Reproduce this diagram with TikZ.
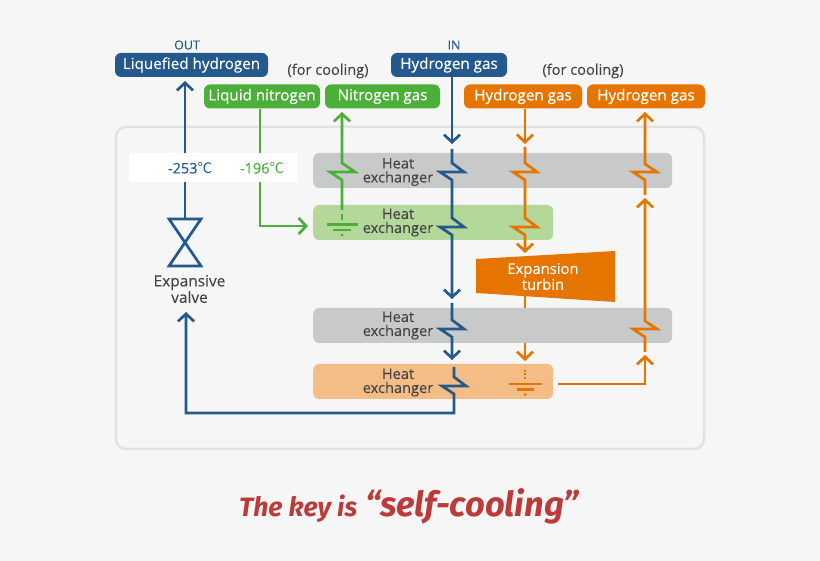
\documentclass[tikz,border=0pt]{standalone}
\usepackage{fontspec}
\setmainfont{Open Sans}
\newfontfamily\medf[FakeBold=0.35]{Open Sans}
\newfontfamily\lightf[FakeBold=0.12]{Open Sans}
\newfontfamily\titlefont{Fira Sans}
\newfontfamily\cjkf{Noto Sans CJK KR}
\usetikzlibrary{arrows.meta,calc}
\definecolor{bluec}{HTML}{23598C}
\definecolor{greenc}{HTML}{4BAF3A}
\definecolor{orangec}{HTML}{E67500}
\definecolor{darkt}{HTML}{444444}
\definecolor{bgc}{HTML}{F6F6F6}
\definecolor{panelc}{HTML}{E1E3E2}
\definecolor{greyb}{HTML}{C8CAC9}
\definecolor{greenb}{HTML}{B3D89A}
\definecolor{orangeb}{HTML}{F4BD85}
\definecolor{redc}{HTML}{BC3A38}
\newcommand{\dgc}{{\cjkf ℃}}
\newcommand{\fs}[1]{\fontsize{#1}{14}\selectfont}
\newcommand{\zigpath}[2]{-- (#1,#2-9) -- (#1+12,#2) -- (#1-12,#2) -- (#1,#2+8)}
\tikzset{
  x=1pt,y=-1pt,
  pill/.style={rounded corners=6pt,text=white,inner sep=0pt,font=\medf\fs{15.2},anchor=center,minimum height=24pt},
  hx/.style={rounded corners=6pt,inner sep=0pt,minimum height=35pt,anchor=west},
  hxlabel/.style={text=darkt,font=\lightf\fs{14.6},align=center,inner sep=0pt},
  pipe/.style={line width=2.7pt,line join=miter},
  tipped/.style={pipe,-{Straight Barb[length=7.5pt,width=16pt,line width=2.7pt]}},
  small/.style={text=darkt,font=\lightf\fs{14.6},inner sep=0pt,align=center},
}
\begin{document}
\begin{tikzpicture}
\useasboundingbox (0,0) rectangle (820,561);
\fill[bgc] (0,0) rectangle (820,561);
\draw[panelc,line width=2.5pt,rounded corners=10pt] (116,127) rectangle (704,449);
\node[fill=white,minimum width=168pt,minimum height=29pt,inner sep=0pt] (wbar) at (213,167.5) {};
% heat exchanger bars
\node[hx,fill=greyb,minimum width=359pt] (hxa) at (313,170.5) {};
\node[hx,fill=greenb,minimum width=240pt] (hxb) at (313,222.5) {};
\node[hx,fill=greyb,minimum width=359pt] (hxc) at (313,325.5) {};
\node[hx,fill=orangeb,minimum width=240pt] (hxd) at (313,381.5) {};
\node[hxlabel] (la) at (398,172) {Heat\\exchanger};
\node[hxlabel] (lb) at (398,222.5) {Heat\\exchanger};
\node[hxlabel] (lc) at (398,325.5) {Heat\\exchanger};
\node[hxlabel] (ld) at (398,382.5) {Heat\\exchanger};
% top labels
\node[pill,fill=bluec,minimum width=153pt] (lh) at (191.5,65) {Liquefied hydrogen};
\node[pill,fill=greenc,minimum width=116pt] (ln) at (262,96.5) {Liquid nitrogen};
\node[pill,fill=greenc,minimum width=115pt] (ng) at (382.5,96.5) {Nitrogen gas};
\node[pill,fill=bluec,minimum width=116pt] (hin) at (449,65) {Hydrogen gas};
\node[pill,fill=orangec,minimum width=118pt] (hoa) at (523,96.5) {Hydrogen gas};
\node[pill,fill=orangec,minimum width=118pt] (hob) at (646,96.5) {Hydrogen gas};
\node[text=bluec,font=\lightf\fs{12.5},inner sep=0pt] (tout) at (187,45) {OUT};
\node[text=bluec,font=\lightf\fs{12.5},inner sep=0pt] (tin) at (454,45) {IN};
\node[small] (fca) at (328,71) {(for cooling)};
\node[small] (fcb) at (583,71) {(for cooling)};
\node[text=bluec,font=\lightf\fs{14.5},inner sep=0pt] (t253) at (190,168) {-253\dgc};
\node[text=greenc,font=\lightf\fs{14.5},inner sep=0pt] (t196) at (262,168) {-196\dgc};
% turbine
\fill[orangec] (476,259) -- (615,251) -- (615,302) -- (476,293) -- cycle;
\node[text=white,font=\medf\fs{14.8},align=center,inner sep=0pt] (turb) at (543,276.5) {Expansion\\turbin};
\coordinate (turbS) at (525,296);
% valve
\coordinate (vt) at (185,219);
\coordinate (vb) at (185,266);
\draw[bluec,line width=2.7pt,line join=miter] (169,219) -- (201,219) -- (169,266) -- (201,266) -- cycle;
\node[text=darkt,font=\lightf\fs{15.4},inner sep=0pt,align=center] (vlab) at (189.5,289) {Expansive\\valve};
% blue liquefied
\coordinate (wt) at (185,153);
\coordinate (wb) at (185,182);
\draw[tipped,bluec] (wt) -- (185,81);
\draw[pipe,bluec] (wb) -- (vt);
\draw[tipped,bluec] (454,367) \zigpath{454}{386} -- (454,413) -- (186,413) -- (186,312);
% blue main
\draw[tipped,bluec] (hin.south -| 452,0) -- (452,144);
\draw[tipped,bluec] (452,149) \zigpath{452}{172} -- (452,219) \zigpath{452}{227} -- (452,299);
\draw[tipped,bluec] (452,303) \zigpath{452}{329} -- (452,360);
% green
\draw[tipped,greenc] (342,210) -- (342,180) -- (330,172) -- (355,172) -- (342,163) -- (342,112);
\draw[pipe,greenc] (342,214) -- (342,220);
\draw[pipe,greenc] (327,224.5) -- (358,224.5);
\draw[pipe,greenc] (333,230) -- (351,230);
\fill[greenc] (342,235) circle (1.5);
\draw[pipe,greenc] (ln.south -| 260,0) -- (260,153);
\draw[tipped,greenc] (260,182) -- (260,226) -- (308,226);
% orange down
\draw[tipped,orangec] (hoa.south -| 525,0) -- (525,144);
\draw[tipped,orangec] (525,147) \zigpath{525}{172} -- (525,219) \zigpath{525}{227} -- (525,253);
\draw[pipe,orangec] (turbS) -- (525,308);
\draw[tipped,orangec] (525,343) -- (525,361);
\draw[pipe,orangec,dash pattern=on 2pt off 1.5pt] (525,370) -- (525,379);
\draw[pipe,orangec] (509,384) -- (542,384);
\draw[pipe,orangec] (517,389.5) -- (534,389.5);
\fill[orangec] (525,394.5) circle (1.5);
% orange return
\draw[tipped,orangec] (558,384) -- (645,384) -- (645,355);
\draw[tipped,orangec] (645,352) -- (645,337) -- (633,329) -- (657,329) -- (645,321) -- (645,198);
\draw[tipped,orangec] (645,195) -- (645,180) -- (633,172) -- (657,172) -- (645,164) -- (645,112);
% title
\node[text=redc,font=\titlefont\bfseries\itshape\fontsize{26.6}{27}\selectfont,inner sep=0pt,anchor=base west] (tk) at (239,516) {The key is};
\node[text=redc,font=\titlefont\bfseries\itshape\fontsize{34.5}{35}\selectfont,inner sep=0pt,anchor=base west] (sc) at (365,516) {“self-cooling”};
\end{tikzpicture}
\end{document}
